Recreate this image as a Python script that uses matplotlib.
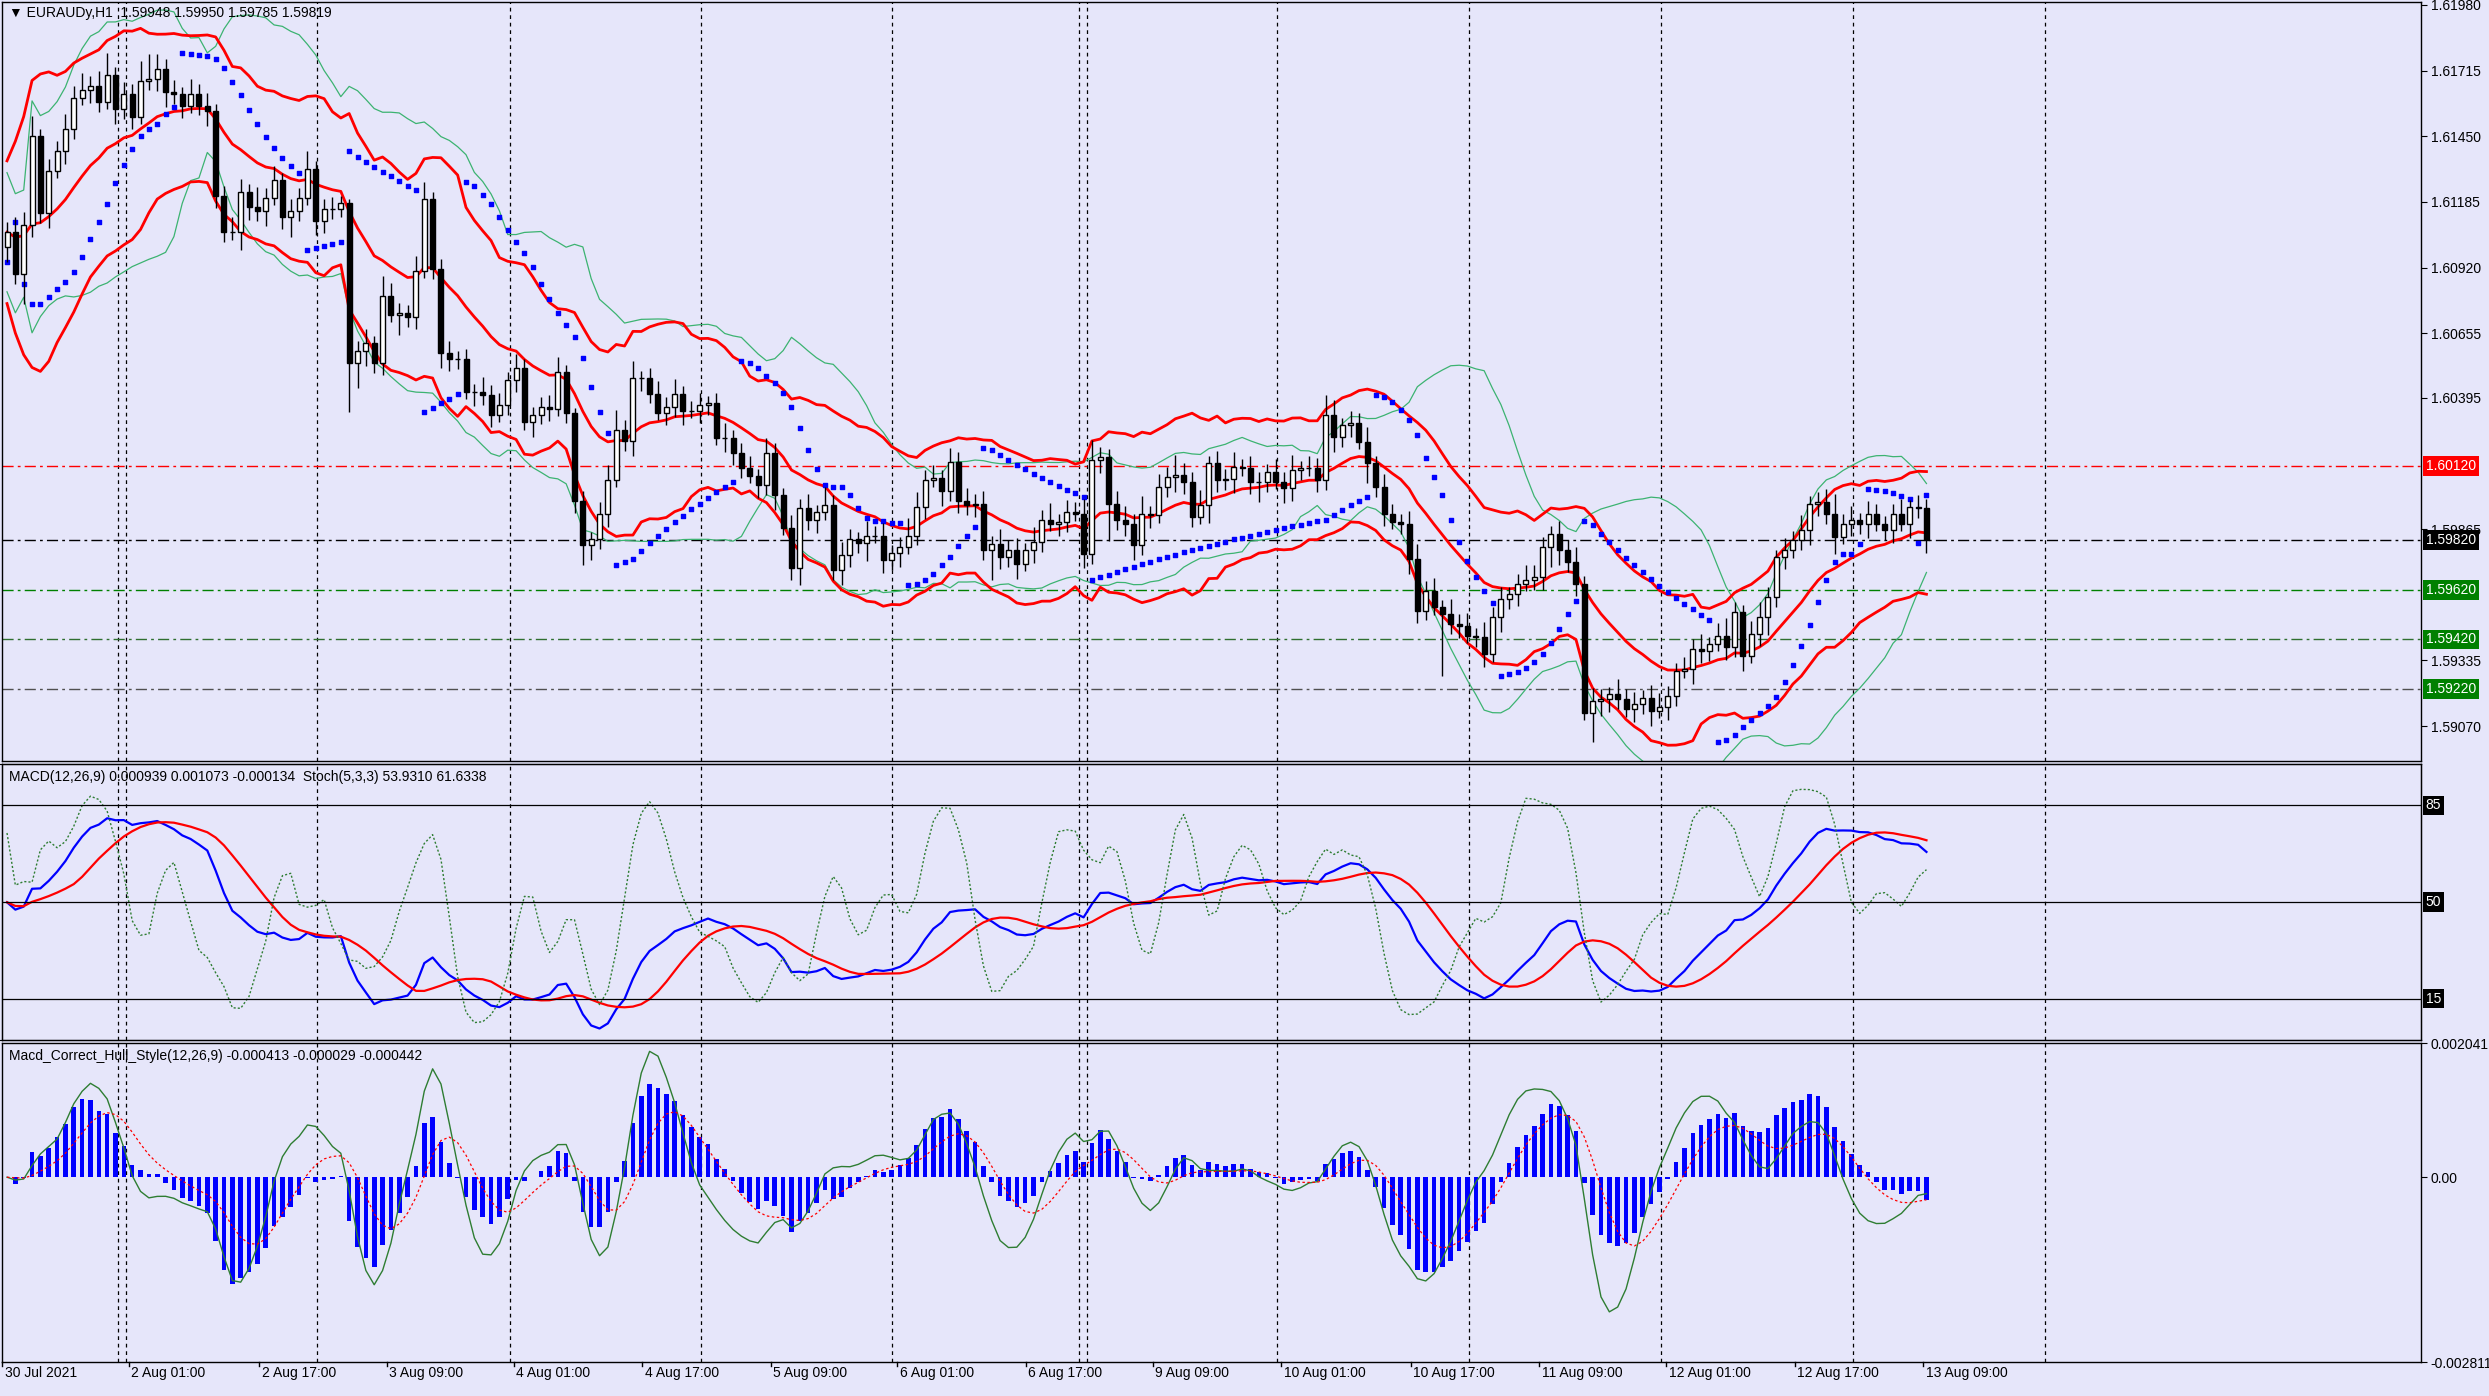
import numpy as np
import pandas as pd
import matplotlib
matplotlib.use("Agg")
import matplotlib.pyplot as plt

plt.rcParams["font.family"] = ["Liberation Sans", "DejaVu Sans"]

# closes in pips above 1.5900 (H1 bars)
close_pips = [
    206.3, 189.3, 209.4, 245, 214, 231, 239, 248, 260.5, 263.6,
    265.2, 259, 269.8, 255.9, 262, 252.8, 267.5, 268.3, 272.1, 262.8,
    262, 257.4, 262, 257.4, 255.1, 221, 206.3, 206.3, 222.6, 216.4,
    214.8, 220.2, 227.2, 212.5, 214.8, 220.2, 231.9, 211, 215.6, 215.6,
    217.9, 153.6, 158.3, 161.4, 153.6, 180.7, 173, 173.8, 172.2, 190.8,
    219.5, 191.6, 157.5, 155.2, 155.2, 142, 142, 140.5, 132.7, 136.6,
    146.7, 151.3, 129.6, 132.7, 135.8, 135, 149.8, 133.5, 97.9, 80.1,
    82.4, 92.4, 106.4, 126.5, 121.9, 147.4, 147.4, 141.2, 133.5, 135.8,
    141.2, 134.3, 134.3, 136.6, 137.4, 123.4, 123.4, 117.2, 111, 107.9,
    104.1, 117.2, 100.2, 87, 70.8, 94.8, 90.1, 93.2, 96.3, 70,
    76.2, 82.4, 80.8, 83.9, 83.9, 73.9, 77, 79.3, 83.9, 95.5,
    106.4, 107.2, 101.7, 113.4, 97.9, 96.3,
    96.8, 77.9, 80.6, 75.2, 77.9, 72.5, 77.9, 81.3, 90, 88.7,
    89.4, 93.4, 92.7, 76.6, 114.3, 115.7, 96.8, 90, 88.7, 79.9,
    92.7, 92.1, 103.6, 107.6, 108.3, 105.6, 91.4, 96.1, 113, 106.3,
    106.9, 111.7, 111, 105.6, 105.6, 109.6, 105.6, 102.9, 110.3, 111,
    111, 106.3, 132.6, 123.8, 128.5, 129.2, 121.8, 113, 103.6, 92.7,
    89.4, 88.7, 74.5, 53.6, 61.7, 55, 52.3, 48.2, 47.5, 43.5,
    42.8, 36, 50.9, 58.3, 60.3, 64.4, 65.8, 67.1, 79.3, 84.7,
    77.9, 73.2, 64.4, 12.4, 17.2, 17.8, 19.9, 17.8, 13.8, 15.8,
    18.5, 13.1, 14.5, 19.2, 29.3, 30, 38.1, 37.4, 40.1, 43.5,
    38.8, 52.9, 35.4, 44.2, 50.9, 59, 75.2, 77.9, 81.9, 86,
    96.8, 97.5, 92.7, 83.3, 88.7, 90, 88.7, 92.7, 88.7, 86,
    92.7, 88.7, 95.4, 94.8, 81.9,
]
wick_hi = [
    4, 6, 5, 8, 3, 5, 4, 6, 5, 7, 4, 6, 9, 3, 5, 4, 8, 10, 6, 4,
    5, 3, 6, 4, 5, 3, 4, 6, 5, 3, 8, 4, 6, 3, 5, 4, 7, 3, 4, 5,
    3, 2, 4, 6, 3, 8, 5, 4, 3, 6, 7, 3, 4, 5, 3, 4, 3, 6, 4, 5,
    3, 6, 4, 3, 4, 5, 6, 3, 2, 4, 3, 5, 6, 8, 4, 7, 3, 4, 5, 4,
    6, 3, 4, 5, 3, 4, 6, 3, 4, 5, 3, 6, 4, 3, 5, 4, 6, 3, 7, 4,
    5, 4, 3, 6, 4, 5, 3, 4, 7, 6, 4, 5, 3, 6, 4, 5,
    4, 5, 3, 6, 4, 5, 3, 6, 4, 7, 3, 5, 4, 6, 8, 4, 3, 5, 6, 4,
    7, 3, 5, 4, 8, 5, 4, 6, 3, 5, 4, 6, 3, 5, 4, 3, 5, 4, 6, 3,
    5, 4, 8, 6, 3, 5, 4, 6, 3, 5, 4, 3, 5, 6, 4, 5, 3, 6, 4, 5,
    3, 6, 4, 5, 3, 4, 6, 5, 4, 3, 5, 4, 6, 3, 5, 4, 3, 6, 4, 5,
    3, 5, 6, 4, 3, 5, 4, 6, 3, 5, 7, 4, 3, 5, 6, 4, 3, 5, 4, 6,
    3, 4, 5, 8, 4, 6, 3, 5, 4, 3, 4, 6, 3, 5, 4,
]
wick_lo = [
    6, 4, 12, 5, 4, 6, 3, 5, 4, 3, 5, 4, 3, 6, 4, 5, 3, 4, 5, 6,
    4, 5, 3, 4, 6, 5, 4, 3, 7, 5, 4, 6, 3, 5, 8, 4, 3, 6, 5, 4,
    3, 20, 10, 6, 4, 5, 3, 8, 4, 5, 3, 4, 6, 5, 4, 3, 6, 4, 5, 3,
    4, 5, 3, 6, 4, 5, 3, 4, 5, 8, 6, 4, 5, 3, 4, 6, 5, 4, 3, 5,
    4, 6, 3, 5, 4, 3, 6, 5, 4, 3, 5, 4, 6, 3, 5, 7, 4, 5, 3, 4,
    6, 5, 4, 7, 3, 5, 4, 6, 3, 4, 5, 3, 6, 4, 5, 4,
    5, 4, 12, 5, 4, 6, 3, 5, 4, 3, 5, 4, 3, 6, 4, 5, 15, 4, 5, 6,
    4, 5, 3, 4, 6, 5, 4, 3, 7, 5, 4, 6, 3, 5, 8, 4, 3, 6, 5, 4,
    3, 5, 4, 6, 4, 5, 3, 8, 4, 5, 3, 4, 6, 5, 4, 3, 25, 4, 5, 3,
    4, 5, 3, 6, 4, 5, 3, 4, 5, 8, 6, 4, 5, 3, 12, 6, 5, 4, 3, 5,
    4, 6, 3, 5, 4, 3, 6, 5, 4, 3, 5, 4, 6, 3, 5, 7, 4, 5, 3, 4,
    6, 5, 4, 7, 3, 5, 4, 6, 3, 4, 5, 3, 6, 4, 5,
]

time_labels = ["30 Jul 2021", "2 Aug 01:00", "2 Aug 17:00", "3 Aug 09:00", "4 Aug 01:00",
               "4 Aug 17:00", "5 Aug 09:00", "6 Aug 01:00", "6 Aug 17:00", "9 Aug 09:00",
               "10 Aug 01:00", "10 Aug 17:00", "11 Aug 09:00", "12 Aug 01:00", "12 Aug 17:00",
               "13 Aug 09:00"]
label_pos = [-0.6, 14.6, 30.2, 45.5, 60.7, 76.1, 91.5, 106.7, 122.1, 137.3,
             152.7, 168.2, 183.6, 198.8, 214.2, 229.6]
day_breaks = [13.3, 14.3, 37.1, 60.3, 83.1, 106.1, 128.4, 129.4, 152.2, 175.2, 198.2, 221.2, 244.2]

price_ticks = [1.61980, 1.61715, 1.61450, 1.61185, 1.60920, 1.60655, 1.60395, 1.59865, 1.59335, 1.59070]
levels = [1.60120, 1.59820, 1.59620, 1.59420, 1.59220]
level_colors = ["red", "black", "green", "#2f6f2f", "#505050"]
level_box = ["red", "black", "green", "green", "green"]

# ---- build OHLC ----
c = 1.59 + np.array(close_pips) / 1e4
o = np.concatenate([[c[0] - 0.0006], c[:-1]])
h = np.maximum(o, c) + np.array(wick_hi) / 1e4
l = np.minimum(o, c) - np.array(wick_lo) / 1e4
n = len(c)
x = np.arange(n)
s = pd.Series(c)

# ---- indicators ----
mid = s.ewm(span=16, adjust=False).mean()
rng = pd.Series(h - l).rolling(14, min_periods=1).mean()
env_up = mid + 1.8 * rng
env_dn = mid - 1.8 * rng
bb_mid = s.rolling(20, min_periods=1).mean()
bb_sd = s.rolling(20, min_periods=2).std().bfill()
bb_up = bb_mid + 2 * bb_sd
bb_dn = bb_mid - 2 * bb_sd

# parabolic SAR
sar = np.zeros(n)
bull = True
af = 0.02
ep = h[0]
sar[0] = l[0]
for i in range(1, n):
    sar[i] = sar[i - 1] + af * (ep - sar[i - 1])
    if bull:
        sar[i] = min(sar[i], l[i - 1], l[max(i - 2, 0)])
        if l[i] < sar[i]:
            bull, sar[i], ep, af = False, ep, l[i], 0.02
        elif h[i] > ep:
            ep, af = h[i], min(af + 0.02, 0.2)
    else:
        sar[i] = max(sar[i], h[i - 1], h[max(i - 2, 0)])
        if h[i] > sar[i]:
            bull, sar[i], ep, af = True, ep, h[i], 0.02
        elif l[i] < ep:
            ep, af = l[i], min(af + 0.02, 0.2)

macd = s.ewm(span=12, adjust=False).mean() - s.ewm(span=26, adjust=False).mean()
signal = macd.rolling(9, min_periods=1).mean()
ll = pd.Series(l).rolling(5, min_periods=1).min()
hh = pd.Series(h).rolling(5, min_periods=1).max()
k = 100 * (s - ll).rolling(3, min_periods=1).sum() / (hh - ll).rolling(3, min_periods=1).sum()
d = k.rolling(3, min_periods=1).mean()


def wma(ser, p):
    w = np.arange(1, p + 1)
    return ser.rolling(p, min_periods=1).apply(lambda a: np.dot(a, w[-len(a):]) / w[-len(a):].sum(), raw=True)


def hma(ser, p):
    return wma(2 * wma(ser, p // 2) - wma(ser, p), int(np.sqrt(p)))


hull_line = 0.55 * (hma(s, 12) - hma(s, 26))
hull_sig = hull_line.ewm(span=9, adjust=False).mean()
hist = 1.6 * (macd - signal)

# ---- figure ----
bg = "#E6E6FA"
fig = plt.figure(figsize=(24.89, 13.96), dpi=100, facecolor=bg)
W, H = 2489, 1396


def add_ax(top, bottom):
    return fig.add_axes([2 / W, 1 - bottom / H, 2419 / W, (bottom - top) / H], facecolor=bg)


ax1 = add_ax(2, 761)
ax2 = add_ax(764, 1040)
ax3 = add_ax(1043, 1362)
xmax = -0.6 + 2419 / 1.5875 / 5.257
for ax in (ax1, ax2, ax3):
    ax.set_xlim(-0.6, xmax)
    ax.set_xticks([])
    ax.yaxis.tick_right()
    ax.tick_params(axis="y", direction="out", length=4, labelsize=10, pad=3)
    for sp in ax.spines.values():
        sp.set_color("black")
        sp.set_linewidth(1)
    for b in day_breaks:
        ax.axvline(b, color="black", lw=0.9, ls=(0, (3, 3)), zorder=1)

# main panel
ax1.set_ylim(1.58929, 1.61980 + 0.00012)
for lv, lc in zip(levels, level_colors):
    ax1.axhline(lv, color=lc, lw=1, ls=(0, (8, 3, 2, 3)), zorder=1)
ax1.plot(x, bb_up, color="#3CB371", lw=0.9)
ax1.plot(x, bb_dn, color="#3CB371", lw=0.9)
for ln in (env_up, mid, env_dn):
    ax1.plot(x, ln, color="red", lw=2)
ax1.scatter(x, sar, s=5, marker="s", color="blue", zorder=4)
ax1.vlines(x, l, h, color="black", lw=1, zorder=5)
up = c >= o
ax1.bar(x[up], (c - o)[up], bottom=o[up], width=0.6, color="white", edgecolor="black", lw=1, zorder=6)
ax1.bar(x[~up], (o - c)[~up], bottom=c[~up], width=0.6, color="black", edgecolor="black", lw=1, zorder=6)
ax1.set_yticks(price_ticks)
ax1.set_yticklabels([f"{t:.5f}" for t in price_ticks])
for lv, bc in zip(levels, level_box):
    ax1.text(1.002, lv, f"{lv:.5f}", transform=ax1.get_yaxis_transform(), color="white",
             fontsize=10, va="center", ha="left", zorder=10,
             bbox=dict(boxstyle="square,pad=0.2", fc=bc, ec="none"), clip_on=False)
ax1.text(0.003, 0.995, "\u25bc EURAUDy,H1  1.59948 1.59950 1.59785 1.59819", transform=ax1.transAxes,
         fontsize=10, va="top", ha="left")

# MACD + Stoch panel
ax2.set_ylim(-0.002535, 0.002545)
ax2.plot(x, macd, color="blue", lw=1.6)
ax2.plot(x, signal, color="red", lw=1.6)
ax2.set_yticks([0.002545, -0.002535])
ax2.set_yticklabels(["0.002545", "-0.002535"])
ax2b = ax2.twinx()
ax2b.set_ylim(0, 100)
ax2b.set_xlim(-0.6, xmax)
ax2b.set_yticks([])
ax2b.plot(x, d, color="#2E7D32", lw=1, ls=(0, (1.5, 1.5)))
for lv in (85, 50, 15):
    ax2b.axhline(lv, color="black", lw=0.9)
    ax2b.text(1.002, lv, f"{lv}", transform=ax2b.get_yaxis_transform(), color="white", fontsize=10,
              va="center", ha="left", bbox=dict(boxstyle="square,pad=0.2", fc="black", ec="none"), clip_on=False)
ax2.text(0.003, 0.98, "MACD(12,26,9) 0.000939 0.001073 -0.000134  Stoch(5,3,3) 53.9310 61.6338",
         transform=ax2.transAxes, fontsize=10, va="top", ha="left")

# Hull style MACD panel
ax3.set_ylim(-0.002811, 0.002041)
ax3.bar(x, hist, width=0.55, color="blue")
ax3.plot(x, hull_line, color="#2E7D32", lw=1)
ax3.plot(x, hull_sig, color="red", lw=0.9, ls=(0, (2, 2)))
ax3.set_yticks([0.002041, 0.0, -0.002811])
ax3.set_yticklabels(["0.002041", "0.00", "-0.002811"])
ax3.text(0.003, 0.98, "Macd_Correct_Hull_Style(12,26,9) -0.000413 -0.000029 -0.000442",
         transform=ax3.transAxes, fontsize=10, va="top", ha="left")

# time axis labels
for pos, lab in zip(label_pos, time_labels):
    ax3.plot([pos, pos], [0, -0.012], transform=ax3.get_xaxis_transform(), color="black", lw=1, clip_on=False)
    ax3.text(pos + 0.3, -0.012, lab, transform=ax3.get_xaxis_transform(), fontsize=10,
             va="top", ha="left")

fig.savefig("out.png", dpi=100, facecolor=bg)
